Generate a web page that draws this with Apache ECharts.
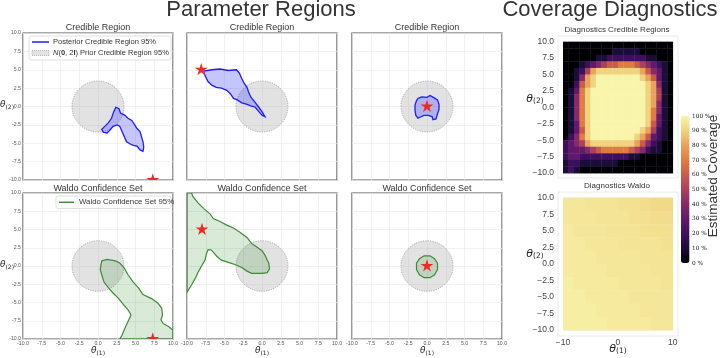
<!DOCTYPE html>
<html><head><meta charset="utf-8">
<script src="https://cdn.jsdelivr.net/npm/echarts@6/dist/echarts.min.js"></script>
<style>html,body{margin:0;padding:0;background:#fff}#c{width:720px;height:358px}</style>
</head><body><div id="c"></div>
<script>
// ---------------- data ----------------
const priorRadius = 3.46;
const trueParamsCredible = [[7.3, -10], [-8.1, 5.0], [0, 0]];
const trueParamsWaldo = [[7.3, -10], [-8.0, 5.0], [0, 0]];

const credibleRegion1 = [[2.4,-0.1],[2.8,-0.3],[3.0,-0.9],[3.6,-1.2],[4.0,-1.6],[4.5,-1.9],[4.9,-2.5],[5.2,-3.0],[5.6,-3.4],[5.8,-4.1],[6.0,-4.8],[6.1,-5.5],[6.0,-6.1],[5.6,-5.9],[5.2,-5.4],[4.7,-5.3],[4.3,-5.1],[3.8,-4.8],[3.5,-4.1],[3.2,-3.4],[2.9,-2.7],[2.6,-2.5],[2.0,-2.7],[1.6,-3.2],[1.2,-3.6],[0.7,-3.5],[0.5,-3.1],[0.9,-2.7],[1.4,-2.2],[1.8,-1.6],[2.1,-0.7]];
const credibleRegion2 = [[-7.8,4.8],[-6.7,5.0],[-5.6,5.1],[-4.5,4.9],[-3.4,5.0],[-3.0,4.5],[-2.7,3.8],[-2.4,3.2],[-2.0,2.6],[-1.8,2.0],[-1.5,1.3],[-1.1,0.8],[-0.5,0.0],[0.0,-0.7],[0.4,-1.4],[0.0,-1.2],[-0.5,-0.6],[-0.9,-0.1],[-1.5,0.1],[-2.0,0.3],[-2.7,0.5],[-3.3,0.9],[-3.8,1.1],[-4.2,1.7],[-4.7,2.2],[-5.4,2.5],[-6.1,2.6],[-6.7,2.9],[-7.2,3.4],[-7.5,4.0],[-7.7,4.5]];
const credibleRegion3 = [[-1.2,1.1],[-0.7,1.3],[0.0,1.25],[0.4,1.5],[0.9,1.2],[1.4,0.9],[1.6,0.3],[1.6,-0.4],[1.4,-1.0],[1.2,-1.7],[0.8,-1.8],[0.7,-1.4],[0.2,-1.2],[-0.4,-1.2],[-0.8,-1.4],[-1.2,-1.6],[-1.5,-1.2],[-1.6,-0.5],[-1.6,0.2],[-1.4,0.8]];

const waldoSet1 = [[0.5,0.7],[1.2,0.9],[2.3,0.7],[2.9,0.4],[3.5,-0.3],[4.0,-1.2],[4.7,-2.2],[5.4,-3.0],[6.0,-3.9],[7.2,-4.5],[8.0,-5.1],[8.5,-5.8],[8.6,-6.7],[8.4,-7.4],[8.7,-7.9],[9.4,-8.3],[10,-8.8],[10,-10],[2.9,-10],[3.2,-9.5],[3.6,-8.5],[4.0,-7.6],[4.4,-6.7],[4.0,-6.0],[3.4,-5.3],[2.7,-4.4],[2.0,-3.7],[1.4,-3.0],[0.8,-2.2],[0.5,-1.2],[0.3,-0.5],[0.4,0.2]];
const waldoSet2 = [[-10,10],[-9.4,10],[-9.2,9.5],[-8.5,8.6],[-7.8,7.9],[-6.9,7.1],[-6.5,6.5],[-5.6,6.1],[-4.7,5.6],[-3.8,5.2],[-2.9,4.6],[-2.0,3.9],[-1.4,3.1],[-0.7,2.6],[0.0,2.1],[0.4,1.5],[0.7,0.8],[0.9,0.4],[1.0,-0.4],[0.7,-0.9],[0.0,-1.0],[-1.4,-1.0],[-2.0,-0.7],[-2.7,-0.2],[-3.6,0.2],[-4.5,0.5],[-5.4,0.8],[-6.0,1.3],[-6.5,1.9],[-6.8,2.2],[-7.2,2.2],[-7.4,1.7],[-7.6,0.8],[-8.0,0.1],[-8.5,-0.8],[-8.9,-1.7],[-9.4,-2.6],[-10,-3.6]];
const waldoSet3 = [[-0.4,1.4],[0.4,1.4],[1.0,1.0],[1.4,0.4],[1.4,-0.5],[1.0,-1.2],[0.4,-1.6],[-0.4,-1.6],[-1.0,-1.2],[-1.4,-0.5],[-1.4,0.4],[-1.0,1.0]];

// coverage of credible regions, 20x20 cells (theta1 -10..10 left->right, theta2 10..-10 top->bottom),
// hex digit d = d*10 %  ('A' = 100 %)
const credibleCoverageRows = [
 "00000000000000000000",
 "00000000011111000000",
 "00000011222222211000",
 "00012345667776543210",
 "00125899999999864310",
 "001489AAAAAAAA986310",
 "002689AAAAAAAAA98410",
 "01379AAAAAAAAAA98510",
 "01479AAAAAAAAAA98510",
 "01479AAAAAAAAAA98410",
 "01479AAAAAAAAAA97410",
 "01479AAAAAAAAAA97310",
 "01379AAAAAAAAAA96310",
 "01369AAAAAAAAA985210",
 "02479AAAAAAAA9863210",
 "23458999999998642100",
 "23334567777765421100",
 "23322222222211000000",
 "12211111110000000000",
 "12100000000000000000"
];
// coverage of Waldo sets, 10x10 cells, percent (top row = theta2 near 10)
const waldoCoverageRows = [
 [96,96,95,95,95,94,94,93,92,92],
 [96,96,96,95,95,95,94,94,93,93],
 [97,96,96,96,95,95,95,94,94,94],
 [97,97,96,96,96,95,95,95,95,94],
 [97,97,97,96,96,96,96,95,95,95],
 [97,97,97,97,96,96,96,96,95,95],
 [98,97,97,97,97,96,96,96,96,95],
 [98,98,97,97,97,97,96,96,96,96],
 [98,98,98,97,97,97,97,96,96,96],
 [98,98,98,98,97,97,97,97,96,96]
];

// ---------------- build ----------------
const FONT = "'Liberation Sans', Arial, sans-serif";
const mainLeft = [23, 187, 352], mainTop = [33, 193], mainH = [147, 146];
const grids = [], xAxes = [], yAxes = [], series = [];
const starD = 'M50,0 L61,35 L98,35 L68,57 L79,91 L50,70 L21,91 L32,57 L2,35 L39,35 Z';

const regions = [credibleRegion1, credibleRegion2, credibleRegion3, waldoSet1, waldoSet2, waldoSet3];
for (let r = 0; r < 2; r++) for (let c = 0; c < 3; c++) {
  const g = r * 3 + c;
  grids.push({left: mainLeft[c], top: mainTop[r], width: 150, height: mainH[r], show: true, borderColor: '#555', borderWidth: 1.2, backgroundColor: 'transparent'});
  xAxes.push({gridIndex: g, type: 'value', min: -10, max: 10, interval: 2.5,
    axisLine: {show: false}, axisTick: {show: false},
    splitLine: {lineStyle: {color: '#ebebeb', width: 0.7}},
    axisLabel: {show: r === 1, formatter: v => v.toFixed(1), fontSize: 5.2, color: '#555', margin: 2, fontFamily: FONT, showMinLabel: true, showMaxLabel: true}});
  yAxes.push({gridIndex: g, type: 'value', min: -10, max: 10, interval: 2.5,
    axisLine: {show: false}, axisTick: {show: false},
    splitLine: {lineStyle: {color: '#ebebeb', width: 0.7}},
    axisLabel: {show: c === 0, formatter: v => v.toFixed(1), fontSize: 5.2, color: '#555', margin: 2, fontFamily: FONT, showMinLabel: true, showMaxLabel: true}});
  // prior region
  series.push({type: 'custom', xAxisIndex: g, yAxisIndex: g, data: [[0, 0]], clip: true, z: 2,
    renderItem: (p, api) => {
      const ctr = api.coord([0, 0]);
      const s = api.size([priorRadius, priorRadius]);
      return {type: 'ellipse', shape: {cx: ctr[0], cy: ctr[1], rx: s[0], ry: s[1]},
        style: {fill: 'rgba(160,160,160,0.3)', stroke: '#a0a0a0', lineWidth: 0.8, lineDash: [1.2, 1.2]}};
    }});
  const pts = regions[g];
  const isWaldo = r === 1;
  series.push({type: 'custom', xAxisIndex: g, yAxisIndex: g, data: pts, clip: true, z: 3,
    renderItem: (p, api) => {
      if (p.dataIndex !== 0) return;
      return {type: 'polygon', shape: {points: pts.map(q => api.coord(q))},
        style: isWaldo ? {fill: 'rgba(70,150,60,0.2)', stroke: '#3e8a36', lineWidth: 1.2}
                       : {fill: 'rgba(40,40,255,0.27)', stroke: '#1c1cff', lineWidth: 1.3}};
    }});
  const star = (isWaldo ? trueParamsWaldo : trueParamsCredible)[c];
  series.push({type: 'custom', xAxisIndex: g, yAxisIndex: g, data: [star], clip: true, z: 5,
    renderItem: (p, api) => {
      const q = api.coord([api.value(0), api.value(1)]);
      return {type: 'path', shape: {pathData: starD, x: q[0] - 6.5, y: q[1] - 6.8, width: 13, height: 12.2},
        style: {fill: '#ee2a24'}};
    }});
}

// diagnostics
const diagTop = [41.7, 197.7], diagH = [131.3, 132.3];
const minus = v => (v < 0 ? '\u2212' : '') + Math.abs(v);
for (let d = 0; d < 2; d++) {
  const g = 6 + d;
  grids.push({left: 563, top: diagTop[d], width: 109.7, height: diagH[d], show: false});
  xAxes.push({gridIndex: g, type: 'value', min: -10, max: 10, interval: 10,
    axisLine: {show: false}, axisTick: {show: false},
    splitLine: {lineStyle: {color: '#ececec', width: 0.7}},
    axisLabel: {show: d === 1, formatter: v => minus(v), fontSize: 8.5, color: '#444', margin: 8, fontFamily: FONT}});
  yAxes.push({gridIndex: g, type: 'value', min: -10, max: 10, interval: 2.5,
    axisLine: {show: false}, axisTick: {show: false},
    splitLine: {lineStyle: {color: '#ececec', width: 0.7}},
    axisLabel: {formatter: v => (v < 0 ? '\u2212' : '') + Math.abs(v).toFixed(1), fontSize: 8.5, color: '#444', margin: 9, fontFamily: FONT}});
}
const credCells = [];
credibleCoverageRows.forEach((row, j) => row.split('').forEach((ch, i) => credCells.push([-9.5 + i, 9.5 - j, parseInt(ch, 16) * 10])));
const waldoCells = [];
waldoCoverageRows.forEach((row, j) => row.forEach((v, i) => waldoCells.push([-9 + 2 * i, 9 - 2 * j, v])));
function heat(g, data, cw, ch) {
  return {type: 'custom', xAxisIndex: g, yAxisIndex: g, data, encode: {x: 0, y: 1}, clip: false, z: 2,
    renderItem: (p, api) => {
      const x = api.value(0), y = api.value(1);
      const a = api.coord([x - cw / 2, y + ch / 2]), b = api.coord([x + cw / 2, y - ch / 2]);
      return {type: 'rect', shape: {x: a[0], y: a[1], width: b[0] - a[0] + 0.4, height: b[1] - a[1] + 0.4},
        style: {fill: api.visual('color')}};
    }};
}
const heatIdx1 = series.length; series.push(heat(6, credCells, 1, 1));
const heatIdx2 = series.length; series.push(heat(7, waldoCells, 2, 2));

// colorbar axis
grids.push({left: 681, top: 116, width: 8.5, height: 147, show: false});
xAxes.push({gridIndex: 8, type: 'value', min: 0, max: 1, show: false});
yAxes.push({gridIndex: 8, type: 'value', min: 0, max: 100, interval: 10, position: 'right',
  axisLine: {show: false}, axisTick: {show: false}, splitLine: {show: false},
  axisLabel: {formatter: v => v + ' %', fontSize: 5.8, color: '#222', margin: 2.5, fontFamily: "'DejaVu Serif', serif"}});

const thetaRich = (fs, ss) => ({t: {fontSize: fs, fontStyle: 'italic', fontFamily: "'DejaVu Sans', sans-serif", fill: '#222'},
  s: {fontSize: ss, fontFamily: "'DejaVu Sans', sans-serif", fill: '#222', padding: [fs * 0.45, 0, 0, 0]}});
function txt(x, y, text, fs, extra) {
  return Object.assign({type: 'text', x, y, z: 100, silent: true,
    style: Object.assign({text, fontSize: fs, fill: '#333', fontFamily: FONT, align: 'center', verticalAlign: 'middle'}, extra || {})});
}
const graphics = [
  txt(261, 10, 'Parameter Regions', 22),
  txt(610, 10, 'Coverage Diagnostics', 22),
  txt(98, 27.5, 'Credible Region', 9),
  txt(262, 27.5, 'Credible Region', 9),
  txt(427, 27.5, 'Credible Region', 9),
  txt(98, 188.5, 'Waldo Confidence Set', 9),
  txt(262, 188.5, 'Waldo Confidence Set', 9),
  txt(427, 188.5, 'Waldo Confidence Set', 9),
  txt(617, 29.5, 'Diagnostics Credible Regions', 8),
  txt(617, 186, 'Diagnostics Waldo', 8),
  // axis names
  txt(7, 105, '{t|θ}{s|(2)}', 9, {rich: thetaRich(9, 6)}),
  txt(7, 265, '{t|θ}{s|(2)}', 9, {rich: thetaRich(9, 6)}),
  txt(98, 351, '{t|θ}{s|(1)}', 9, {rich: thetaRich(9, 6)}),
  txt(262, 351, '{t|θ}{s|(1)}', 9, {rich: thetaRich(9, 6)}),
  txt(427, 351, '{t|θ}{s|(1)}', 9, {rich: thetaRich(9, 6)}),
  txt(535, 99, '{t|θ}{s|(2)}', 11, {rich: thetaRich(11, 7.5)}),
  txt(535, 254, '{t|θ}{s|(2)}', 11, {rich: thetaRich(11, 7.5)}),
  txt(618, 349, '{t|θ}{s|(1)}', 11, {rich: thetaRich(11, 7.5)}),
  Object.assign(txt(713.5, 176, 'Estimated Coverage', 13.5), {rotation: Math.PI / 2}),
  // diagnostic frames
  {type: 'rect', z: 1, silent: true, shape: {x: 558, y: 36, width: 120, height: 142}, style: {fill: 'none', stroke: '#e4e4e4', lineWidth: 0.8}},
  {type: 'rect', z: 1, silent: true, shape: {x: 558, y: 192, width: 120, height: 144}, style: {fill: 'none', stroke: '#e4e4e4', lineWidth: 0.8}},
  // legend 1
  {type: 'rect', z: 90, silent: true, shape: {x: 29, y: 36, width: 142, height: 24, r: 2}, style: {fill: 'rgba(255,255,255,0.85)', stroke: '#d8d8d8', lineWidth: 0.8}},
  {type: 'line', z: 95, silent: true, shape: {x1: 32, y1: 42, x2: 49, y2: 42}, style: {stroke: '#1c1cff', lineWidth: 1.5}},
  txt(53, 42, 'Posterior Credible Region 95%', 7.5, {align: 'left', fill: '#333'}),
  {type: 'rect', z: 95, silent: true, shape: {x: 32, y: 50.5, width: 17, height: 5}, style: {fill: '#e2e2e2', stroke: '#999', lineWidth: 0.7, lineDash: [1, 1]}},
  txt(53, 53, '{i|N}({b|0}, 2{b|I}) Prior Credible Region 95%', 7.5, {align: 'left', fill: '#333',
    rich: {i: {fontStyle: 'italic', fontSize: 7.5, fontFamily: FONT, fill: '#333'}, b: {fontWeight: 'bold', fontSize: 7.5, fontFamily: FONT, fill: '#333'}}}),
  // legend 2
  {type: 'rect', z: 90, silent: true, shape: {x: 56, y: 196, width: 115, height: 12.5, r: 2}, style: {fill: 'rgba(255,255,255,0.85)', stroke: '#d8d8d8', lineWidth: 0.8}},
  {type: 'line', z: 95, silent: true, shape: {x1: 59, y1: 202.3, x2: 74, y2: 202.3}, style: {stroke: '#3e8a36', lineWidth: 1.5}},
  txt(79, 202.3, 'Waldo Confidence Set 95%', 7.8, {align: 'left', fill: '#333'})
];

const chart = echarts.init(document.getElementById('c'), null, {renderer: 'canvas'});
chart.setOption({
  animation: false,
  backgroundColor: '#fff',
  grid: grids, xAxis: xAxes, yAxis: yAxes, series,
  visualMap: {type: 'continuous', min: 0, max: 100, dimension: 2, seriesIndex: [heatIdx1, heatIdx2],
    left: 681, top: 116, itemWidth: 8.5, itemHeight: 147, padding: 0, calculable: false, show: true,
    inRange: {color: ['#000004','#1b0c3a','#3d0f5e','#611a6b','#86296a','#a9405c','#c85c4a','#df7c42','#eaa35a','#f0d27f','#f8f5ab']}},
  graphic: graphics
});
</script></body></html>
